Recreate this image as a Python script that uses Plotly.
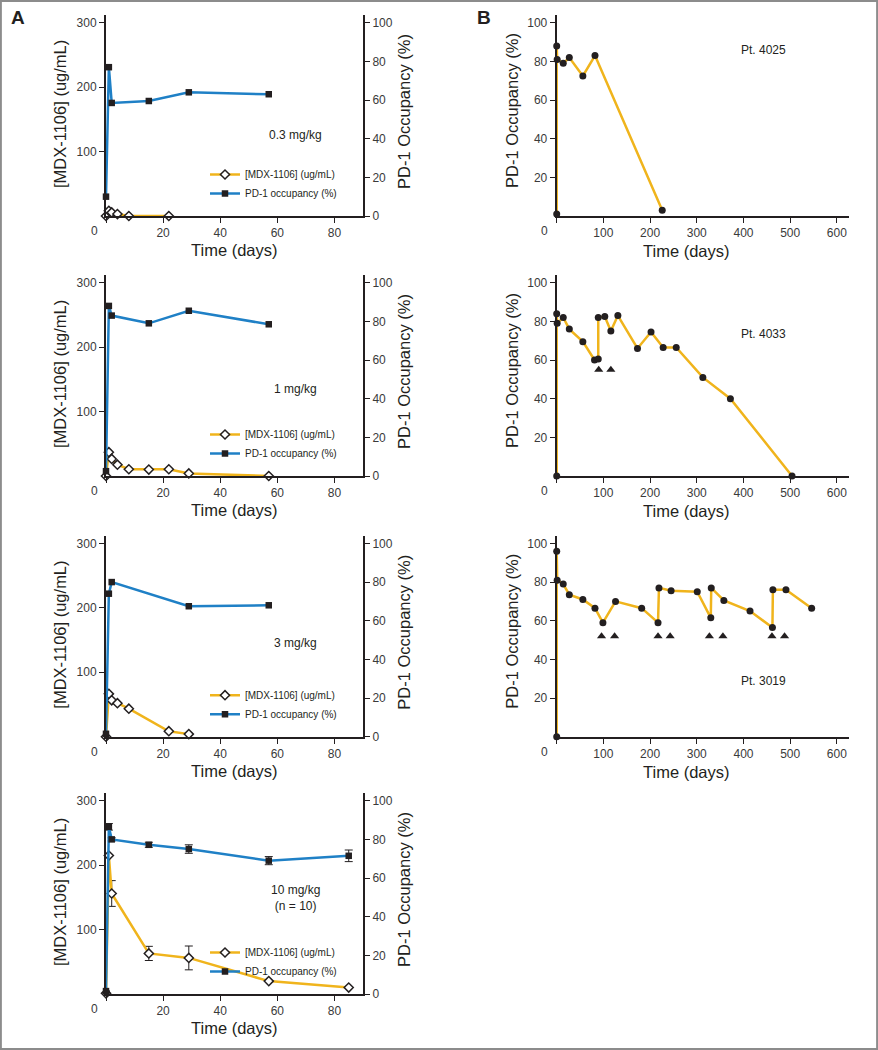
import plotly.graph_objects as go

W, H = 878, 1050

# ---- Panel A: MDX-1106 concentration and PD-1 occupancy by dose cohort ----
a_doses = ['0.3 mg/kg', '1 mg/kg', '3 mg/kg', '10 mg/kg<br>(n = 10)']

a1_conc_days = [0, 1, 2, 4, 8, 22]
a1_conc = [0, 8, 5.5, 3, 0, 0]
a1_occ_days = [0, 1, 2, 15, 29, 57]
a1_occ = [10, 77, 58.5, 59.5, 64, 63]

a2_conc_days = [0, 1, 2, 4, 8, 15, 22, 29, 57]
a2_conc = [0, 37, 26.5, 17.5, 10.5, 10, 10.5, 4, 0]
a2_occ_days = [0, 1, 2, 15, 29, 57]
a2_occ = [2.5, 88, 83, 79, 85.5, 78.5]

a3_conc_days = [0, 1, 2, 4, 8, 22, 29]
a3_conc = [0, 66.5, 56.5, 52, 43.5, 8.5, 4]
a3_occ_days = [0, 1, 2, 29, 57]
a3_occ = [1.5, 74, 80, 67.5, 68]

a4_conc_days = [0, 1, 2, 15, 29, 57, 85]
a4_conc = [1, 215, 156, 63, 56, 20, 10]
a4_conc_err = [0, 0, 20, 11, 18.5, 0, 0]
a4_occ_days = [0, 1, 2, 15, 29, 57, 85]
a4_occ = [1.5, 86.5, 80, 77.2, 75, 69, 71.5]
a4_occ_err = [0, 1.7, 0.8, 1.3, 2.2, 2.1, 3.0]

# ---- Panel B: individual patients ----
b_patients = ['Pt. 4025', 'Pt. 4033', 'Pt. 3019']

b1_days = [0, 0, 1, 14, 27, 56, 82, 226]
b1_occ = [1, 88, 81, 79, 82, 72.5, 83, 3]
b1_dose_days = []
b1_dose_y = []

b2_days = [0, 0, 1, 14, 27, 56, 81, 89, 89, 103, 116, 131, 173, 202, 228, 256, 313, 372, 504]
b2_occ = [0, 84, 79, 82, 76, 69.5, 60, 60.5, 82, 82.5, 75, 83, 66, 74.5, 66.5, 66.5, 51, 40, 0]
b2_dose_days = [90, 116]
b2_dose_y = [55, 55]

b3_days = [0, 0, 1, 14, 27, 56, 82, 99, 126, 182, 217, 219, 245, 301, 330, 331, 358, 414, 462, 463, 491, 546]
b3_occ = [0, 96, 81, 79, 73.5, 71, 66.5, 59, 70, 66.5, 59, 77, 75.5, 75, 61.5, 77, 70.5, 65, 56.5, 76, 76, 66.5]
b3_dose_days = [96, 124, 217, 243, 327, 356, 461, 488]
b3_dose_y = [52, 52, 52, 52, 52, 52, 52, 52]

a_x_ticks = [0, 20, 40, 60, 80]
a_left_ticks = [100, 200, 300]
a_right_ticks = [0, 20, 40, 60, 80, 100]
b_x_ticks = [0, 100, 200, 300, 400, 500, 600]
b_y_ticks = [20, 40, 60, 80, 100]

BLUE = '#1f80c6'
GOLD = '#f0b41c'
INK = '#231f20'
SANS = 'Liberation Sans, Arial, sans-serif'
TICK_FONT = dict(family=SANS, size=12, color='#3a3a3a')
TITLE_FONT = dict(family=SANS, size=16.5, color=INK)
TEXT_FONT = dict(family=SANS, size=12, color=INK)

PLOT_H = 201
a_bottoms = [216, 476, 736.7, 994]
b_bottoms = [216, 476, 736.7]
A_LEFT, A_RIGHT = 106, 363
B_LEFT, B_RIGHT = 556.7, 849


def px(x, y):
    return x / W, 1 - y / H


def axis_style(**kw):
    d = dict(showline=True, linecolor=INK, linewidth=2, ticks='outside', ticklen=5,
             tickwidth=1, tickcolor=INK, showgrid=False, zeroline=False, automargin=False,
             tickfont=TICK_FONT, fixedrange=True)
    d.update(kw)
    return d


def label(x, y, text, font, angle=0):
    tx, ty = px(x, y)
    return dict(x=tx, y=ty, xref='paper', yref='paper', text=text, showarrow=False,
                xanchor='center', yanchor='middle', textangle=angle, font=font)


fig = go.Figure()
layout = {}
annotations = []
ax = 0   # x axis counter
ay = 0   # y axis counter

a_sets = [
    (a1_conc_days, a1_conc, None, a1_occ_days, a1_occ, None),
    (a2_conc_days, a2_conc, None, a2_occ_days, a2_occ, None),
    (a3_conc_days, a3_conc, None, a3_occ_days, a3_occ, None),
    (a4_conc_days, a4_conc, a4_conc_err, a4_occ_days, a4_occ, a4_occ_err),
]

for i, (cd, cv, ce, od, ov, oe) in enumerate(a_sets):
    bottom = a_bottoms[i]
    top = bottom - PLOT_H
    ax += 1
    ay += 1
    xn, yl = ax, ay
    ay += 1
    yr = ay
    xs = '' if xn == 1 else str(xn)
    yls = '' if yl == 1 else str(yl)
    yrs = str(yr)
    ydom = [1 - bottom / H, 1 - top / H]
    layout['xaxis' + xs] = axis_style(domain=[A_LEFT / W, A_RIGHT / W], range=[0, 90],
                                      anchor='y' + yls, tickvals=a_x_ticks,
                                      ticktext=[''] + [str(t) for t in a_x_ticks[1:]])
    layout['yaxis' + yls] = axis_style(domain=ydom, range=[0, 312], anchor='x' + xs,
                                       tickvals=a_left_ticks)
    layout['yaxis' + yrs] = axis_style(domain=ydom, range=[0, 104], anchor='x' + xs,
                                       overlaying='y' + yls, side='right',
                                       tickvals=a_right_ticks)
    leg = 'legend' if i == 0 else 'legend%d' % (i + 1)
    err_c = dict(type='data', array=ce, color=INK, thickness=1, width=4) if ce else None
    err_o = dict(type='data', array=oe, color=INK, thickness=1, width=4) if oe else None
    fig.add_trace(go.Scatter(
        x=cd, y=cv, mode='lines+markers', name='[MDX-1106] (ug/mL)',
        line=dict(color=GOLD, width=2.5), error_y=err_c, cliponaxis=False,
        marker=dict(symbol='diamond', size=7, color='white', line=dict(color=INK, width=1.5)),
        xaxis='x' + xs, yaxis='y' + yls, legend=leg))
    fig.add_trace(go.Scatter(
        x=od, y=ov, mode='lines+markers', name='PD-1 occupancy (%)',
        line=dict(color=BLUE, width=2.5), error_y=err_o, cliponaxis=False,
        marker=dict(symbol='square', size=6.5, color=INK),
        xaxis='x' + xs, yaxis='y' + yrs, legend=leg))
    # legend
    lx, ly = px(205, bottom - 56)
    layout[leg] = dict(x=lx, y=ly, xanchor='left', yanchor='top', bgcolor='rgba(0,0,0,0)',
                       font=dict(family=SANS, size=10, color=INK),
                       tracegroupgap=0, itemwidth=30)
    # "0" tick label (offset left of axis as in original)
    annotations.append(dict(x=0, y=0, xref='x' + xs, yref='y' + yls + ' domain', text='0',
                            showarrow=False, xshift=-12, xanchor='center', yanchor='top',
                            yshift=-6, font=TICK_FONT))
    annotations.append(label((A_LEFT + A_RIGHT) / 2, bottom + 34, 'Time (days)', TITLE_FONT))
    annotations.append(label(60, bottom - 102, '[MDX-1106] (ug/mL)', TITLE_FONT, -90))
    annotations.append(label(404, bottom - 104, 'PD-1 Occupancy (%)', TITLE_FONT, -90))
    dy = bottom - [81, 87, 94, 96][i]
    annotations.append(label(295, dy, a_doses[i], TEXT_FONT))

b_sets = [
    (b1_days, b1_occ, b1_dose_days, b1_dose_y, 50),
    (b2_days, b2_occ, b2_dose_days, b2_dose_y, 334),
    (b3_days, b3_occ, b3_dose_days, b3_dose_y, 681),
]

for i, (bd, bo, dd, dv, label_y) in enumerate(b_sets):
    bottom = b_bottoms[i]
    top = bottom - PLOT_H
    ax += 1
    ay += 1
    xs, ys = str(ax), str(ay)
    layout['xaxis' + xs] = axis_style(domain=[B_LEFT / W, B_RIGHT / W], range=[0, 626],
                                      anchor='y' + ys, tickvals=b_x_ticks,
                                      ticktext=[''] + [str(t) for t in b_x_ticks[1:]])
    layout['yaxis' + ys] = axis_style(domain=[1 - bottom / H, 1 - top / H], range=[0, 104],
                                      anchor='x' + xs, tickvals=b_y_ticks)
    fig.add_trace(go.Scatter(
        x=bd, y=bo, mode='lines+markers', showlegend=False, cliponaxis=False,
        line=dict(color=GOLD, width=2.5), marker=dict(size=7, color=INK),
        xaxis='x' + xs, yaxis='y' + ys))
    if dd:
        fig.add_trace(go.Scatter(
            x=dd, y=dv, mode='markers', showlegend=False, cliponaxis=False,
            marker=dict(symbol='triangle-up', size=8, color=INK),
            xaxis='x' + xs, yaxis='y' + ys))
    annotations.append(dict(x=0, y=0, xref='x' + xs, yref='y' + ys + ' domain', text='0',
                            showarrow=False, xshift=-12, xanchor='center', yanchor='top',
                            yshift=-6, font=TICK_FONT))
    annotations.append(label(686, bottom + 35, 'Time (days)', TITLE_FONT))
    annotations.append(label(512, bottom - 105, 'PD-1 Occupancy (%)', TITLE_FONT, -90))
    annotations.append(label(763, label_y, b_patients[i], TEXT_FONT))

# panel letters
for letter, lx in [('A', 18), ('B', 484)]:
    annotations.append(label(lx, 18, '<b>%s</b>' % letter,
                             dict(family=SANS, size=19, color=INK)))

layout.update(dict(
    template='none',
    width=W, height=H,
    margin=dict(l=0, r=0, t=0, b=0, autoexpand=False),
    paper_bgcolor='white', plot_bgcolor='rgba(0,0,0,0)',
    annotations=annotations,
    shapes=[dict(type='rect', xref='paper', yref='paper', x0=0.001, x1=0.999, y0=0.001,
                 y1=0.999, line=dict(color='#8c8c8c', width=2))],
))
fig.update_layout(**layout)

# page body has a default 8px margin; drop it so the figure sits at the window origin
fig.write_html('out.html', config={'displayModeBar': False},
               post_script="document.body.style.margin='0';")
